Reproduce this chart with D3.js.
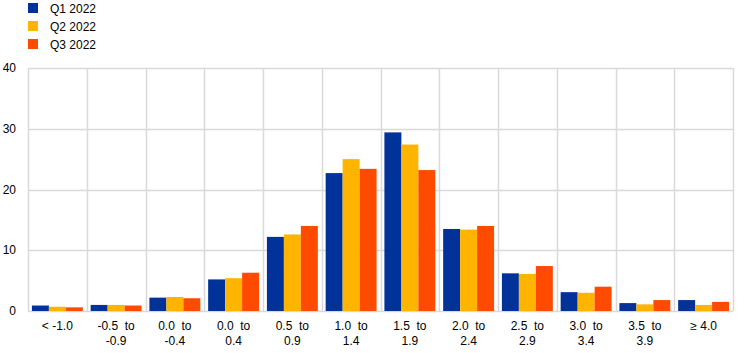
<!DOCTYPE html>
<html>
<head>
<meta charset="utf-8">
<script src="https://cdn.jsdelivr.net/npm/d3@7"></script>
<style>
  body { margin: 0; background: #fff; }
  text { font-family: Arial, "Liberation Sans", sans-serif; fill: #000; }
</style>
</head>
<body>
<div id="chart"></div>
<script>
// categories (two lines each)
const categories = [
    ["< -1.0"], ["-0.5  to", "-0.9"], ["0.0  to", "-0.4"], ["0.0  to", "0.4"],
    ["0.5  to", "0.9"], ["1.0  to", "1.4"], ["1.5  to", "1.9"], ["2.0  to", "2.4"],
    ["2.5  to", "2.9"], ["3.0  to", "3.4"], ["3.5  to", "3.9"], ["≥ 4.0"]
];
const seriesNames = ["Q1 2022", "Q2 2022", "Q3 2022"];
const q1 = [0.9, 1.0, 2.2, 5.2, 12.2, 22.7, 29.4, 13.5, 6.2, 3.1, 1.3, 1.8];
const q2 = [0.7, 1.0, 2.3, 5.4, 12.6, 25.0, 27.4, 13.4, 6.1, 3.0, 1.1, 1.0];
const q3 = [0.6, 0.9, 2.1, 6.3, 14.0, 23.4, 23.2, 14.0, 7.4, 4.0, 1.8, 1.5];
const yTicks = [0, 10, 20, 30, 40];
const colors = ["#003299", "#ffb400", "#ff4b00"];

const width = 744, height = 353;
const margin = { left: 28, right: 11, top: 68, bottom: 42 };

const svg = d3.select("#chart").append("svg")
    .attr("width", width)
    .attr("height", height);

const x = d3.scaleBand()
    .domain(d3.range(categories.length))
    .range([margin.left, width - margin.right]);

const xInner = d3.scaleBand()
    .domain(d3.range(seriesNames.length))
    .range([0, x.bandwidth()])
    .paddingOuter(0.23);

const y = d3.scaleLinear()
    .domain([0, 40])
    .range([height - margin.bottom, margin.top]);

// horizontal gridlines
svg.append("g").selectAll("line")
    .data(yTicks)
    .enter().append("line")
    .attr("x1", margin.left)
    .attr("x2", width - margin.right)
    .attr("y1", d => Math.round(y(d)) + 0.5)
    .attr("y2", d => Math.round(y(d)) + 0.5)
    .attr("stroke", "#d9d9d9")
    .attr("stroke-width", 1.5);

// vertical gridlines at band boundaries
svg.append("g").selectAll("line")
    .data(d3.range(categories.length + 1))
    .enter().append("line")
    .attr("x1", d => Math.round(margin.left + d * x.step()) + 0.5)
    .attr("x2", d => Math.round(margin.left + d * x.step()) + 0.5)
    .attr("y1", y(40))
    .attr("y2", y(0))
    .attr("stroke", "#d9d9d9")
    .attr("stroke-width", 1.5);

// y tick labels
svg.append("g").selectAll("text")
    .data(yTicks)
    .enter().append("text")
    .attr("x", 16)
    .attr("y", d => y(d) + 4)
    .attr("text-anchor", "end")
    .style("font-size", "12px")
    .text(d => d);

// bars
const allSeries = [q1, q2, q3];
allSeries.forEach((vals, s) => {
    svg.append("g").selectAll("rect")
        .data(vals)
        .enter().append("rect")
        .attr("x", (d, i) => x(i) + xInner(s))
        .attr("width", xInner.bandwidth())
        .attr("y", d => y(d))
        .attr("height", d => y(0) - y(d))
        .attr("fill", colors[s]);
});

// x category labels
const labels = svg.append("g").selectAll("text")
    .data(categories)
    .enter().append("text")
    .attr("x", (d, i) => x(i) + x.bandwidth() / 2)
    .attr("y", 330)
    .attr("text-anchor", "middle")
    .style("font-size", "12px")
    .style("white-space", "pre");

labels.selectAll("tspan")
    .data(d => d)
    .enter().append("tspan")
    .attr("x", function () { return d3.select(this.parentNode).attr("x"); })
    .attr("dy", (d, i) => i === 0 ? 0 : 14.5)
    .text(d => d);

// legend
const legend = svg.append("g").selectAll("g")
    .data(seriesNames)
    .enter().append("g")
    .attr("transform", (d, i) => `translate(28, ${3 + i * 18})`);

legend.append("rect")
    .attr("width", 10)
    .attr("height", 10)
    .attr("fill", (d, i) => colors[i]);

legend.append("text")
    .attr("x", 22)
    .attr("y", 9.5)
    .style("font-size", "12px")
    .text(d => d);
</script>
</body>
</html>
